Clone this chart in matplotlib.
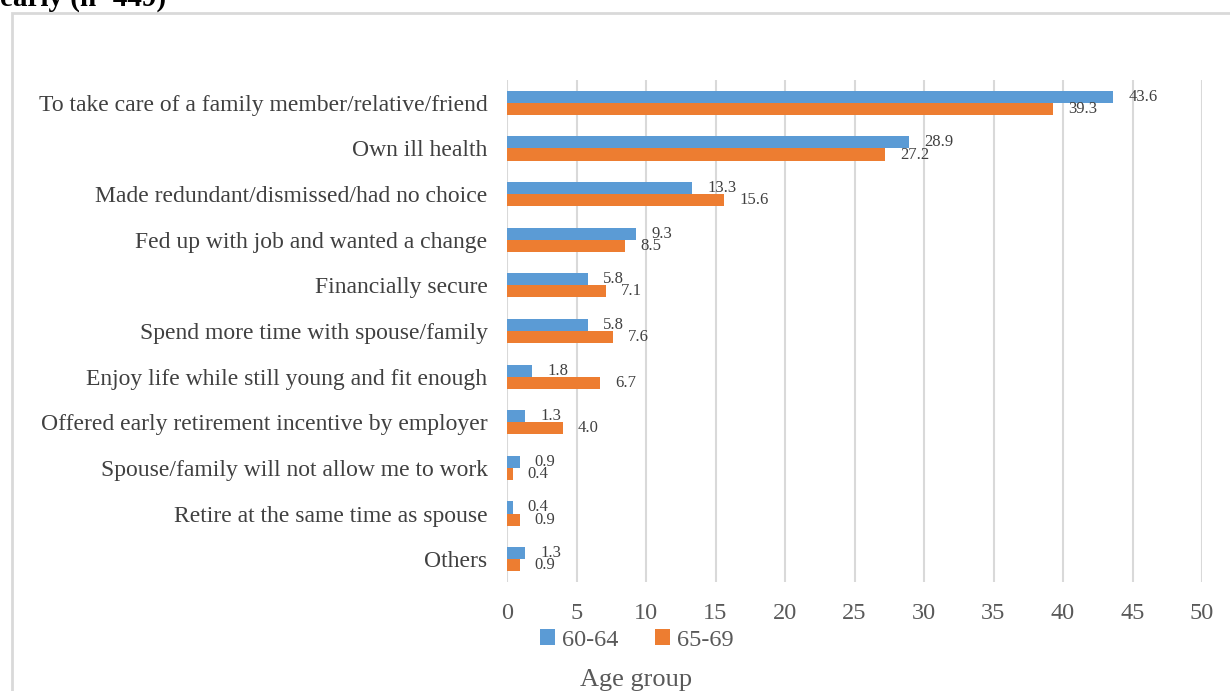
import matplotlib
matplotlib.use("Agg")
import matplotlib.pyplot as plt
import numpy as np
from matplotlib.patches import Rectangle

plt.rcParams['font.family'] = ['Liberation Serif', 'DejaVu Serif']

reasons = [
    "To take care of a family member/relative/friend",
    "Own ill health",
    "Made redundant/dismissed/had no choice",
    "Fed up with job and wanted a change",
    "Financially secure",
    "Spend more time with spouse/family",
    "Enjoy life while still young and fit enough",
    "Offered early retirement incentive by employer",
    "Spouse/family will not allow me to work",
    "Retire at the same time as spouse",
    "Others",
]
age_60_64 = [43.6, 28.9, 13.3, 9.3, 5.8, 5.8, 1.8, 1.3, 0.9, 0.4, 1.3]
age_65_69 = [39.3, 27.2, 15.6, 8.5, 7.1, 7.6, 6.7, 4.0, 0.4, 0.9, 0.9]
groups = ["60-64", "65-69"]
xticks = list(range(0, 51, 5))

blue = "#5B9BD5"
orange = "#ED7D31"
txt = "#404040"

fig = plt.figure(figsize=(12.3, 6.91), dpi=100)
ax = fig.add_axes([507/1230, 109/691, 695/1230, 502/691])

y = np.arange(len(reasons))
h = 0.265
b1 = ax.barh(y - h/2, age_60_64, height=h, color=blue, label=groups[0], zorder=3)
b2 = ax.barh(y + h/2, age_65_69, height=h, color=orange, label=groups[1], zorder=3)

for bars, vals in ((b1, age_60_64), (b2, age_65_69)):
    for rect, v in zip(bars, vals):
        ax.annotate(f"{v:.1f}", (v, rect.get_y() + rect.get_height()/2),
                    xytext=(11, 0), textcoords="offset points",
                    ha="left", va="center", fontsize=12, color=txt)

ax.set_yticks(y)
ax.set_yticklabels(reasons, fontsize=17, color=txt)
ax.set_ylim(len(reasons) - 0.5, -0.5)
ax.set_xlim(0, 50)
ax.set_xticks(xticks)
ax.set_xticklabels([str(t) for t in xticks], fontsize=17.5, color="#595959")
ax.tick_params(length=0)
ax.tick_params(axis="x", pad=15)
ax.tick_params(axis="y", pad=14)
ax.grid(axis="x", color="#D9D9D9", linewidth=1.5, zorder=0)
for s in ax.spines.values():
    s.set_visible(False)

fig.legend(handles=[b1, b2], labels=groups, loc="center", bbox_to_anchor=(637/1230, 1 - 640/691),
           ncol=2, frameon=False, fontsize=17.5, handlelength=0.6, handleheight=0.6,
           handletextpad=0.3, columnspacing=1.5, labelcolor="#595959",
           borderpad=0, borderaxespad=0)
fig.text(636/1230, 1 - 680/691, "Age group", ha="center", va="center", fontsize=19, color="#595959")

fig.patches.append(Rectangle((12/1230, -0.05), 1.1, 1 - 13/691 + 0.05, transform=fig.transFigure,
                             fill=False, edgecolor="#D9D9D9", linewidth=2))
fig.text(0.0, 1 - 6/691, "early (n=449)", ha="left", va="baseline",
         fontsize=21, fontweight="bold", color="black")

fig.savefig("out.png", dpi=100)
